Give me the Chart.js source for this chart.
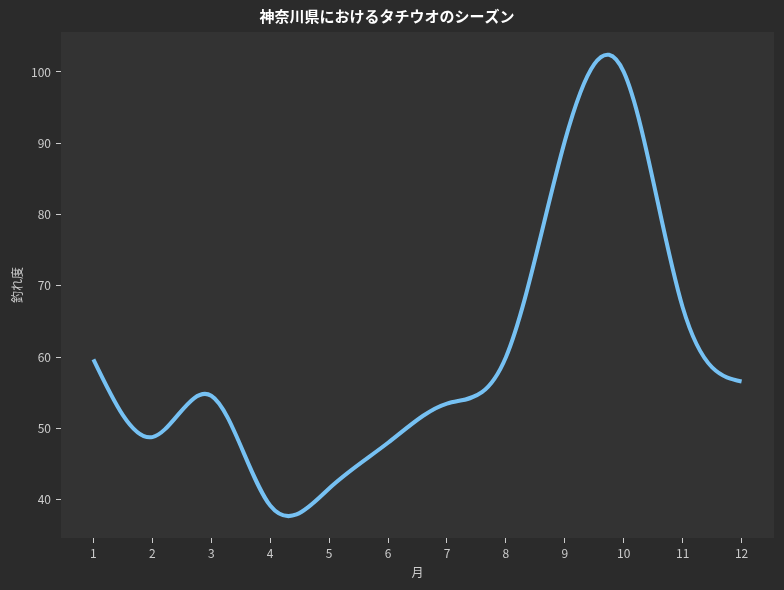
<!DOCTYPE html>
<html><head><meta charset="utf-8">
<script src="https://cdn.jsdelivr.net/npm/chart.js@4/dist/chart.umd.min.js"></script>
<style>html,body{margin:0;padding:0;background:#2b2b2b;}#wrap{width:784px;height:590px;}</style>
</head><body><div id="wrap"><canvas id="c" width="784" height="590"></canvas></div>
<script>
const chartTitle = '神奈川県におけるタチウオのシーズン';
const xTitle = '月';
const yTitle = '釣れ度';
const months = [1, 2, 3, 4, 5, 6, 7, 8, 9, 10, 11, 12];
const monthLabels = ['1', '2', '3', '4', '5', '6', '7', '8', '9', '10', '11', '12'];
const catchIndex = [59.7, 48.8, 54.6, 39.2, 41.6, 48.0, 53.5, 60.0, 90.3, 100.0, 67.0, 56.6];
const yTicks = [40, 50, 60, 70, 80, 90, 100];

const FONT = "'Noto Sans CJK JP', 'Noto Sans', sans-serif";
const TXT = '#cccccc';

// natural cubic spline slopes at knots
function splineSlopes(x, y) {
  const n = x.length;
  const h = i => x[i + 1] - x[i];
  const A = Array.from({length: n}, () => new Array(n).fill(0));
  const b = new Array(n).fill(0);
  A[0][0] = 1;
  for (let i = 1; i < n - 1; i++) {
    A[i][i - 1] = h(i - 1); A[i][i] = 2 * (h(i - 1) + h(i)); A[i][i + 1] = h(i);
    b[i] = 6 * ((y[i + 1] - y[i]) / h(i) - (y[i] - y[i - 1]) / h(i - 1));
  }
  A[n - 1][n - 1] = 1;
  for (let c = 0; c < n; c++) {
    let p = c;
    for (let r = c + 1; r < n; r++) if (Math.abs(A[r][c]) > Math.abs(A[p][c])) p = r;
    [A[c], A[p]] = [A[p], A[c]]; [b[c], b[p]] = [b[p], b[c]];
    for (let r = c + 1; r < n; r++) {
      const f = A[r][c] / A[c][c];
      if (!f) continue;
      for (let k = c; k < n; k++) A[r][k] -= f * A[c][k];
      b[r] -= f * b[c];
    }
  }
  const M = new Array(n).fill(0);
  for (let r = n - 1; r >= 0; r--) {
    let s = b[r];
    for (let k = r + 1; k < n; k++) s -= A[r][k] * M[k];
    M[r] = s / A[r][r];
  }
  const m = [];
  for (let i = 0; i < n - 1; i++) m.push((y[i + 1] - y[i]) / h(i) - h(i) * (2 * M[i] + M[i + 1]) / 6);
  m.push((y[n - 1] - y[n - 2]) / h(n - 2) + h(n - 2) * (M[n - 2] + 2 * M[n - 1]) / 6);
  return m;
}

const splinePlugin = {
  id: 'spline',
  beforeDatasetDraw(chart, args) {
    const meta = args.meta, line = meta.dataset, pts = meta.data;
    if (typeof line.updateControlPoints === 'function') line.updateControlPoints(chart.chartArea, meta.iScale.axis);
    line._pointsUpdated = true;
    const xs = chart.scales.x, ys = chart.scales.y;
    const sx = xs.getPixelForValue(1) - xs.getPixelForValue(0);
    const sy = ys.getPixelForValue(1) - ys.getPixelForValue(0);
    const m = splineSlopes(months, catchIndex);
    const n = pts.length;
    for (let i = 0; i < n; i++) {
      const p = pts[i];
      const k = m[i] * sy / sx;
      if (i > 0) { const d = (p.x - pts[i - 1].x) / 3; p.cp1x = p.x - d; p.cp1y = p.y - d * k; }
      if (i < n - 1) { const d = (pts[i + 1].x - p.x) / 3; p.cp2x = p.x + d; p.cp2y = p.y + d * k; }
    }
    line._path = undefined;
  }
};

const bgPlugin = {
  id: 'bg',
  beforeDraw(chart) {
    const {ctx, chartArea: a} = chart;
    ctx.save();
    ctx.fillStyle = '#2b2b2b';
    ctx.fillRect(0, 0, chart.width, chart.height);
    ctx.fillStyle = '#333333';
    ctx.fillRect(a.left, a.top, a.right - a.left, a.bottom - a.top);
    ctx.restore();
  }
};

new Chart(document.getElementById('c'), {
  type: 'line',
  data: {
    datasets: [{
      data: months.map((m, i) => ({x: m, y: catchIndex[i]})),
      borderColor: '#76c1f3',
      borderWidth: 4,
      pointRadius: 0,
      tension: 0.4,
      fill: false,
      borderCapStyle: 'butt',
      borderJoinStyle: 'round'
    }]
  },
  options: {
    responsive: false,
    animation: false,
    devicePixelRatio: 1,
    layout: {padding: {top: 0, right: 10, bottom: 0, left: 0}},
    elements: {line: {capBezierPoints: false}},
    plugins: {
      legend: {display: false},
      tooltip: {enabled: false},
      title: {
        display: true, text: chartTitle, color: '#ffffff',
        font: {family: FONT, size: 15, weight: 'bold'},
        padding: {top: 7, bottom: 7}
      }
    },
    scales: {
      x: {
        type: 'linear', min: 0.45, max: 12.55,
        afterBuildTicks: s => { s.ticks = months.map(v => ({value: v})); },
        afterFit: s => { s.height = 52; },
        ticks: {color: TXT, font: {family: FONT, size: 12}, padding: 3,
          callback: (v) => monthLabels[months.indexOf(v)]},
        grid: {display: true, drawOnChartArea: false, drawTicks: true, tickLength: 5, color: TXT},
        border: {display: false},
        title: {display: true, text: xTitle, color: TXT, font: {family: FONT, size: 12}, padding: {top: 0, bottom: 10}}
      },
      y: {
        type: 'linear', min: 34.65, max: 105.6,
        afterBuildTicks: s => { s.ticks = yTicks.map(v => ({value: v})); },
        afterFit: s => { s.width = 61; },
        ticks: {color: TXT, font: {family: FONT, size: 12}, padding: 5},
        grid: {display: true, drawOnChartArea: false, drawTicks: true, tickLength: 5, color: TXT},
        border: {display: false},
        title: {display: true, text: yTitle, color: TXT, font: {family: FONT, size: 12}, padding: {top: 10, bottom: 0}}
      }
    }
  },
  plugins: [bgPlugin, splinePlugin]
});
</script>
</body></html>
